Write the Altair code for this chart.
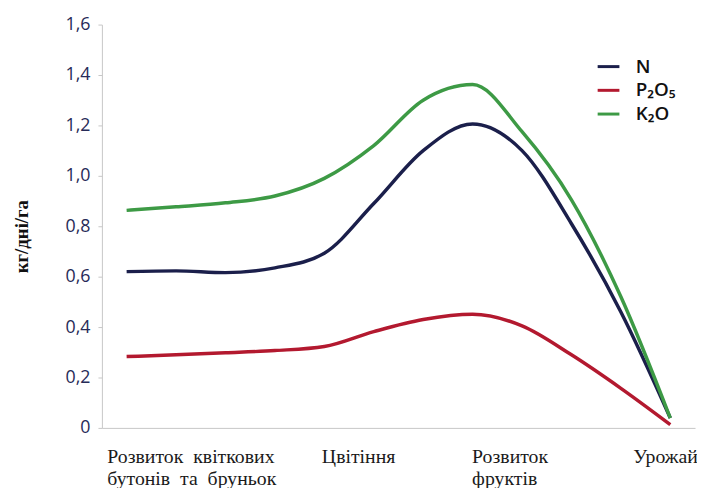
import json
import altair as alt
import pandas as pd

# ---- data ----
stages = list(range(12))
n_vals = [0.620, 0.623, 0.616, 0.635, 0.693, 0.890, 1.100, 1.206, 1.100, 0.810, 0.460, 0.039]
p_vals = [0.283, 0.290, 0.298, 0.307, 0.323, 0.382, 0.430, 0.451, 0.405, 0.290, 0.157, 0.013]
k_vals = [0.863, 0.877, 0.893, 0.920, 0.990, 1.120, 1.300, 1.362, 1.175, 0.905, 0.520, 0.039]

series_names = ["N", "P\u2082O\u2085", "K\u2082O"]
series_colors = ["#1b1f4b", "#b3192f", "#3d9a45"]

stage_labels = [
    ["Розвиток\u00a0\u00a0квіткових", "бутонів\u00a0\u00a0та\u00a0\u00a0бруньок"],
    ["Цвітіння"],
    ["Розвиток", "фруктів"],
    ["Урожай"],
]
stage_label_at = [-0.4, 3.94, 6.98, 10.24]
y_ticks = [0, 0.2, 0.4, 0.6, 0.8, 1.0, 1.2, 1.4, 1.6]

rows = []
for name, vals in zip(series_names, [n_vals, p_vals, k_vals]):
    for s, v in zip(stages, vals):
        rows.append({"stage": s, "value": v, "series": name})
df = pd.DataFrame(rows)

x_expr = "".join(
    f"abs(datum.value - ({pos})) < 0.05 ? {json.dumps(lab, ensure_ascii=False)} : "
    for pos, lab in zip(stage_label_at, stage_labels)
) + "''"
y_expr = "datum.value == 0 ? '0' : replace(format(datum.value, '.1f'), '.', ',')"

axis_grey = "#c6c6c6"

chart = alt.Chart(df).mark_line(interpolate="monotone", strokeWidth=3.5).encode(
    x=alt.X(
        "stage:Q",
        scale=alt.Scale(domain=[-0.5, 11.5], nice=False, zero=False),
        axis=alt.Axis(
            values=stage_label_at, labelExpr=x_expr, title=None,
            ticks=False, tickSize=0, grid=False, domainColor=axis_grey,
            labelFont="Liberation Serif", labelFontSize=20, labelColor="#1a1a1a",
            labelAlign="left", labelBaseline="top", labelPadding=19,
            labelLineHeight=22, labelOverlap=False, labelFlush=False, labelBound=False,
        ),
    ),
    y=alt.Y(
        "value:Q",
        scale=alt.Scale(domain=[0, 1.6], nice=False),
        axis=alt.Axis(
            values=y_ticks, labelExpr=y_expr, title="кг/дні/га",
            titleFont="Liberation Serif", titleFontSize=19, titleFontWeight="bold",
            titleColor="#111111", titleX=-81, titleY=214, titleAngle=270,
            titleBaseline="middle", titleAlign="center",
            grid=False, domainColor=axis_grey, tickColor=axis_grey, tickSize=4,
            labelFont="Open Sans", labelFontSize=18, labelColor="#272b58", labelPadding=8,
        ),
    ),
    color=alt.Color(
        "series:N",
        scale=alt.Scale(domain=series_names, range=series_colors),
        legend=alt.Legend(
            orient="none", legendX=500, legendY=30, title=None,
            symbolType="stroke", symbolSize=484, symbolStrokeWidth=3,
            labelFont="Open Sans", labelFontSize=19, labelFontWeight=600,
            labelColor="#111111", labelOffset=15, rowPadding=1, padding=0,
        ),
    ),
).properties(
    width=600, height=408, autosize="none",
    padding={"left": 95, "top": 14, "right": 2, "bottom": 58},
).configure_view(stroke=None)

chart.save("out.html", embed_options={"renderer": "svg", "actions": False})
